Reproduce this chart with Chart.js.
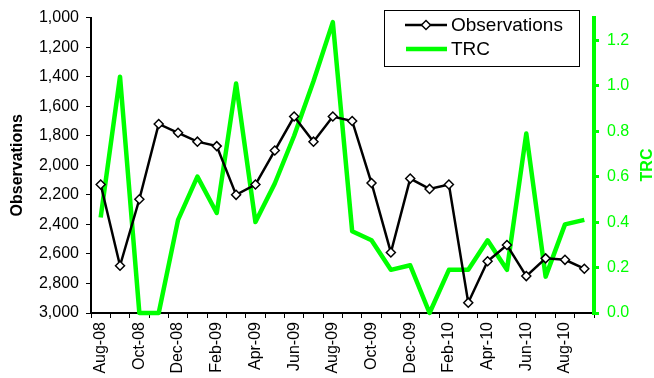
<!DOCTYPE html>
<html>
<head>
<meta charset="utf-8">
<script src="https://cdn.jsdelivr.net/npm/chart.js@4.4.0/dist/chart.umd.min.js"></script>
<style>
  body { margin: 0; background: #fff; }
  #wrap { width: 654px; height: 378px; }
</style>
</head>
<body>
<div id="wrap"><canvas id="chart" width="654" height="378"></canvas></div>
<script>
const months = ['Aug-08', 'Sep-08', 'Oct-08', 'Nov-08', 'Dec-08', 'Jan-09', 'Feb-09', 'Mar-09',
    'Apr-09', 'May-09', 'Jun-09', 'Jul-09', 'Aug-09', 'Sep-09', 'Oct-09', 'Nov-09', 'Dec-09',
    'Jan-10', 'Feb-10', 'Mar-10', 'Apr-10', 'May-10', 'Jun-10', 'Jul-10', 'Aug-10', 'Sep-10'];

const observations = [2130, 2680, 2230, 1720, 1780, 1840, 1870, 2200, 2130, 1900, 1670, 1840,
    1670, 1700, 2120, 2590, 2090, 2160, 2130, 2930, 2650, 2540, 2750, 2630, 2640, 2700];

const trc = [0.42, 1.04, 0.0, 0.0, 0.41, 0.60, 0.44, 1.01, 0.40, 0.57, 0.78, 1.02,
    1.28, 0.36, 0.32, 0.19, 0.21, 0.0, 0.19, 0.19, 0.32, 0.19, 0.79, 0.16, 0.39, 0.41];

const FONT = "'Liberation Sans', Arial, sans-serif";
const GREEN = '#00ff00';

// legend box and the secondary axis title, drawn after the chart
const extras = {
    id: 'extras',
    afterDraw(chart) {
        const ctx = chart.ctx;
        ctx.save();

        // legend
        ctx.fillStyle = '#fff';
        ctx.fillRect(384, 10, 195, 56);
        ctx.strokeStyle = '#000';
        ctx.lineWidth = 1;
        ctx.strokeRect(384.5, 10.5, 195, 56);

        ctx.strokeStyle = '#000';
        ctx.lineWidth = 2.5;
        ctx.beginPath();
        ctx.moveTo(405, 25);
        ctx.lineTo(447, 25);
        ctx.stroke();
        ctx.fillStyle = '#fff';
        ctx.lineWidth = 1.5;
        ctx.beginPath();
        ctx.moveTo(426, 20.5);
        ctx.lineTo(430.5, 25);
        ctx.lineTo(426, 29.5);
        ctx.lineTo(421.5, 25);
        ctx.closePath();
        ctx.fill();
        ctx.stroke();

        ctx.strokeStyle = GREEN;
        ctx.lineWidth = 4.5;
        ctx.beginPath();
        ctx.moveTo(406, 49);
        ctx.lineTo(447, 49);
        ctx.stroke();

        ctx.fillStyle = '#000';
        ctx.font = '19px ' + FONT;
        ctx.textBaseline = 'middle';
        ctx.textAlign = 'left';
        ctx.fillText('Observations', 451, 26);
        ctx.fillText('TRC', 451, 50);

        // right axis title
        ctx.translate(648, 165);
        ctx.rotate(-Math.PI / 2);
        ctx.fillStyle = GREEN;
        ctx.font = 'bold 16px ' + FONT;
        ctx.textAlign = 'center';
        ctx.fillText('TRC', 0, 0);
        ctx.restore();
    }
};

new Chart(document.getElementById('chart'), {
    type: 'line',
    data: {
        labels: months,
        datasets: [
            {
                label: 'Observations',
                data: observations,
                yAxisID: 'y',
                borderColor: '#000',
                borderWidth: 2.5,
                pointStyle: 'rectRot',
                pointRadius: 4.5,
                pointBackgroundColor: '#fff',
                pointBorderColor: '#000',
                pointBorderWidth: 1.5,
                tension: 0,
                clip: false
            },
            {
                label: 'TRC',
                data: trc,
                yAxisID: 'y1',
                borderColor: GREEN,
                borderWidth: 4.5,
                borderJoinStyle: 'round',
                pointRadius: 0,
                tension: 0,
                clip: false
            }
        ]
    },
    options: {
        responsive: false,
        animation: false,
        devicePixelRatio: 1,
        layout: { padding: { top: 17, left: 0, right: 0, bottom: 0 } },
        plugins: {
            legend: { display: false },
            tooltip: { enabled: false }
        },
        scales: {
            x: {
                type: 'category',
                offset: true,
                afterFit(scale) { scale.height = 65; },
                border: { color: '#000', width: 2 },
                grid: {
                    offset: true,
                    drawOnChartArea: false,
                    color: '#000',
                    tickLength: 5,
                    lineWidth: 1
                },
                ticks: {
                    autoSkip: false,
                    maxRotation: 90,
                    minRotation: 90,
                    padding: 4,
                    color: '#000',
                    font: { family: FONT, size: 16 },
                    callback(value, index) {
                        return index % 2 === 0 ? months[index] : '';
                    }
                }
            },
            y: {
                position: 'left',
                reverse: true,
                min: 1000,
                max: 3000,
                afterFit(scale) { scale.width = 91; },
                border: { color: '#000', width: 2 },
                grid: {
                    drawOnChartArea: false,
                    color: '#000',
                    tickLength: 5
                },
                ticks: {
                    stepSize: 200,
                    padding: 7,
                    color: '#000',
                    font: { family: FONT, size: 16 },
                    callback: (v) => v.toLocaleString('en-US')
                },
                title: {
                    display: true,
                    text: 'Observations',
                    color: '#000',
                    font: { family: FONT, size: 16, weight: 'bold' },
                    padding: { top: 8, bottom: 0 }
                }
            },
            y1: {
                position: 'right',
                min: 0,
                max: 1.3,
                afterFit(scale) { scale.width = 60; },
                afterBuildTicks(scale) {
                    scale.ticks = scale.ticks.filter(t => t.value <= 1.21);
                },
                border: { color: GREEN, width: 4 },
                grid: {
                    drawOnChartArea: false,
                    color: GREEN,
                    lineWidth: 3,
                    tickLength: 5
                },
                ticks: {
                    stepSize: 0.2,
                    padding: 8,
                    color: GREEN,
                    font: { family: FONT, size: 16 },
                    callback: (v) => v.toFixed(1)
                }
            }
        }
    },
    plugins: [extras]
});
</script>
</body>
</html>
